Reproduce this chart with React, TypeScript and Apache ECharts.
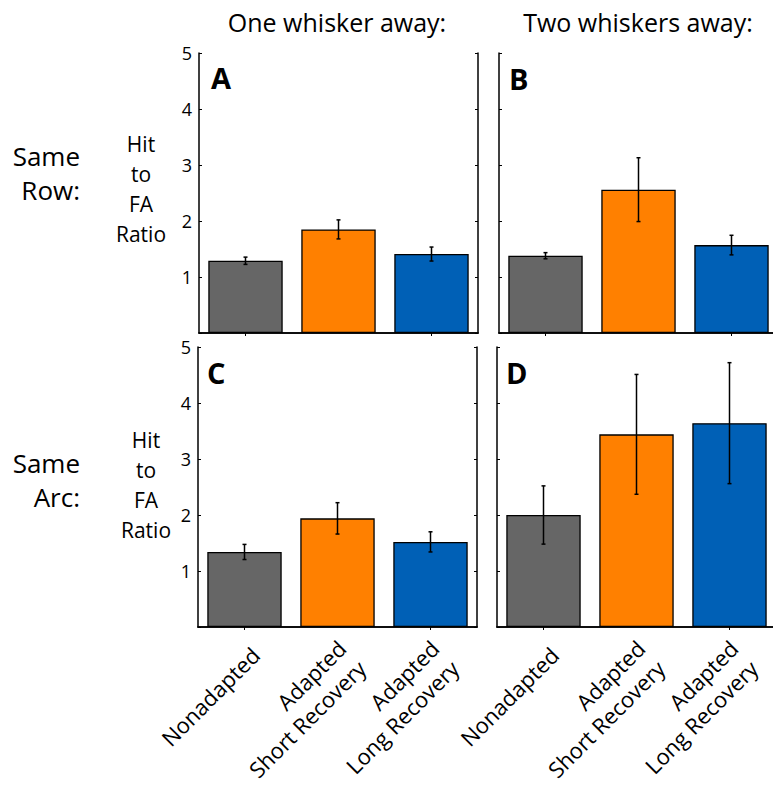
import React, { useEffect, useRef } from "react";
import * as echarts from "echarts";

const categories = ["Nonadapted", "Adapted\nShort Recovery", "Adapted\nLong Recovery"];
const barColors = ["#666666", "#FF8000", "#0060B6"];
const yTicks = [0, 1, 2, 3, 4, 5];

const valuesA = [1.29, 1.85, 1.41];
const errorsA = [0.065, 0.17, 0.125];
const valuesB = [1.38, 2.56, 1.57];
const errorsB = [0.055, 0.57, 0.175];
const valuesC = [1.34, 1.94, 1.52];
const errorsC = [0.135, 0.28, 0.18];
const valuesD = [2.0, 3.44, 3.64];
const errorsD = [0.52, 1.07, 1.08];

const panelLetters = ["A", "B", "C", "D"];
const columnTitles = ["One whisker away:", "Two whiskers away:"];
const rowTitles = ["Same\nRow:", "Same\nArc:"];
const yTitle = "Hit\nto\nFA\nRatio";

const FONT = '"Open Sans", sans-serif';

export default function App() {
  const ref = useRef<HTMLDivElement>(null);
  useEffect(() => {
    if (!ref.current) return;
    const chart = echarts.init(ref.current, null, { renderer: "svg" });

    const grids = [
      { left: 199, top: 53, width: 279, height: 280 },
      { left: 499, top: 53, width: 279, height: 280 },
      { left: 198, top: 347, width: 279, height: 280 },
      { left: 497, top: 347, width: 279, height: 280 },
    ];
    const panels = [
      { v: valuesA, e: errorsA },
      { v: valuesB, e: errorsB },
      { v: valuesC, e: errorsC },
      { v: valuesD, e: errorsD },
    ];

    const labelText = { fontSize: 22, fontFamily: FONT, color: "#000" };
    const axisLine = { show: true, lineStyle: { color: "#000", width: 1.5 } };
    const xAxes: any[] = [];
    const yAxes: any[] = [];
    grids.forEach((_, i) => {
      const showXLabels = i >= 2;
      xAxes.push({
        type: "category",
        gridIndex: i,
        position: "bottom",
        data: categories,
        axisLine,
        axisTick: { show: true, inside: true, length: 3, alignWithLabel: true, lineStyle: { color: "#000" } },
        axisLabel: {
          show: showXLabels,
          interval: 0,
          rotate: 45,
          align: "right",
          verticalAlign: "top",
          ...labelText,
          margin: 13,
          formatter: (value: string) => {
            const lines = value.split("\n");
            if (lines.length === 1) return "{s|" + value + "}";
            return "{f|" + lines[0] + "}\n{l|" + lines[1] + "}";
          },
          rich: {
            s: { ...labelText, lineHeight: 31 },
            f: { ...labelText, lineHeight: 12 },
            l: { ...labelText, lineHeight: 44 },
          },
        },
        splitLine: { show: false },
      });
      xAxes.push({
        type: "category",
        gridIndex: i,
        position: "top",
        data: categories,
        axisLine,
        axisTick: { show: true, inside: true, length: 3, alignWithLabel: true, lineStyle: { color: "#000" } },
        axisLabel: { show: false },
        splitLine: { show: false },
      });
      const showY = i % 2 === 0;
      yAxes.push({
        type: "value",
        gridIndex: i,
        position: "left",
        min: yTicks[0],
        max: yTicks[yTicks.length - 1],
        interval: 1,
        axisLine,
        axisTick: { show: true, inside: true, length: 3, lineStyle: { color: "#000" } },
        axisLabel: {
          show: showY,
          fontSize: 18,
          fontFamily: FONT,
          color: "#000",
          margin: 7,
          formatter: (v: number) => (v === 0 ? "" : String(v)),
        },
        splitLine: { show: false },
      });
      yAxes.push({
        type: "value",
        gridIndex: i,
        position: "right",
        min: yTicks[0],
        max: yTicks[yTicks.length - 1],
        interval: 1,
        axisLine,
        axisTick: { show: true, inside: true, length: 3, lineStyle: { color: "#000" } },
        axisLabel: { show: false },
        splitLine: { show: false },
      });
    });

    const series: any[] = [];
    panels.forEach((p, i) => {
      series.push({
        type: "bar",
        xAxisIndex: i * 2,
        yAxisIndex: i * 2,
        barWidth: "80%",
        data: p.v.map((v, j) => ({
          value: v,
          itemStyle: { color: barColors[j], borderColor: "#000", borderWidth: 1.3 },
        })),
        z: 2,
      });
      series.push({
        type: "custom",
        xAxisIndex: i * 2,
        yAxisIndex: i * 2,
        data: p.v.map((v, j) => [j, v, p.e[j]]),
        z: 3,
        renderItem: (params: any, api: any) => {
          const x = api.value(0);
          const v = api.value(1);
          const e = api.value(2);
          const top = api.coord([x, v + e]);
          const bot = api.coord([x, v - e]);
          const cap = 2;
          const st = { stroke: "#000", lineWidth: 1.5 };
          return {
            type: "group",
            children: [
              { type: "line", shape: { x1: top[0], y1: top[1], x2: bot[0], y2: bot[1] }, style: st },
              { type: "line", shape: { x1: top[0] - cap, y1: top[1], x2: top[0] + cap, y2: top[1] }, style: st },
              { type: "line", shape: { x1: bot[0] - cap, y1: bot[1], x2: bot[0] + cap, y2: bot[1] }, style: st },
            ],
          };
        },
      });
    });

    const letterPos = [
      [211, 77],
      [509, 78],
      [207, 372],
      [506, 372],
    ];
    const graphic: any[] = [];
    panelLetters.forEach((l, i) => {
      graphic.push({
        type: "text",
        x: letterPos[i][0],
        y: letterPos[i][1],
        style: {
          text: l,
          fontSize: 29,
          fontWeight: "bold",
          fontFamily: FONT,
          fill: "#000",
          align: "left",
          verticalAlign: "middle",
        },
        z: 10,
      });
    });
    const titleX = [337, 638];
    columnTitles.forEach((t, i) => {
      graphic.push({
        type: "text",
        x: titleX[i],
        y: 22,
        style: { text: t, fontSize: 25, fontFamily: FONT, fill: "#000", align: "center", verticalAlign: "middle" },
      });
    });
    const rowY = [173, 480];
    rowTitles.forEach((t, i) => {
      graphic.push({
        type: "text",
        x: 80,
        y: rowY[i],
        style: {
          text: t,
          fontSize: 26,
          lineHeight: 34,
          fontFamily: FONT,
          fill: "#000",
          align: "right",
          verticalAlign: "middle",
        },
      });
    });
    const yTitleX = [141, 146];
    const yTitleY = [189, 485];
    yTitleX.forEach((x, i) => {
      graphic.push({
        type: "text",
        x,
        y: yTitleY[i],
        style: {
          text: yTitle,
          fontSize: 21,
          lineHeight: 30,
          fontFamily: FONT,
          fill: "#000",
          align: "center",
          verticalAlign: "middle",
        },
      });
    });

    chart.setOption({
      animation: false,
      backgroundColor: "#fff",
      grid: grids.map((g) => ({ ...g, containLabel: false, outerBoundsMode: "none" })),
      xAxis: xAxes,
      yAxis: yAxes,
      series,
      graphic,
    });
    return () => chart.dispose();
  }, []);
  return (
    <div
      ref={ref}
      style={{ position: "absolute", left: 0, top: 0, width: 773, height: 791, background: "#fff" }}
    />
  );
}
